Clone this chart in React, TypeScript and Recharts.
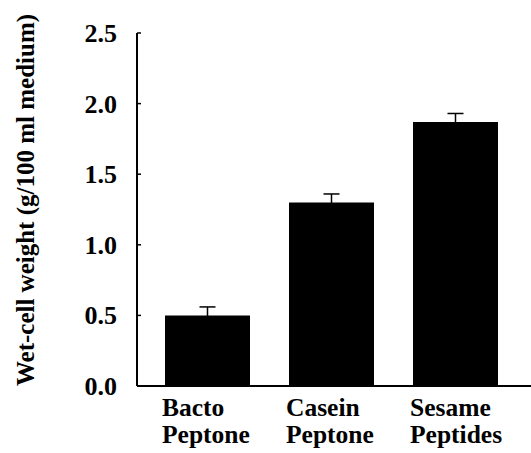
import React from 'react';
import { BarChart, Bar, XAxis, YAxis, ErrorBar, Label } from 'recharts';

document.body.style.margin = '0';

const categories = ['Bacto Peptone', 'Casein Peptone', 'Sesame Peptides'];
const weights = [0.5, 1.3, 1.87];
const errors = [0.06, 0.06, 0.06];
const yTicks = [0, 0.5, 1.0, 1.5, 2.0, 2.5];

const data = categories.map((name, i) => ({ name, value: weights[i], err: errors[i] }));

const FONT = '"Liberation Serif", "Times New Roman", serif';
const textStyle = { fontFamily: FONT, fontWeight: 'bold' as const };

const XTick = (props: any) => {
  const { x, y, payload } = props;
  const lines = String(payload.value).split(' ');
  return (
    <text x={x - 45} y={y} textAnchor="start" style={{ ...textStyle, fontSize: 25.5 }} fill="#000">
      {lines.map((l, i) => (
        <tspan key={i} x={x - 45} dy={i === 0 ? 22 : 27}>{l}</tspan>
      ))}
    </text>
  );
};

const YTick = (props: any) => {
  const { x, y, payload } = props;
  return (
    <text x={x} y={y} dy={9} textAnchor="end" style={{ ...textStyle, fontSize: 26 }} fill="#000">
      {Number(payload.value).toFixed(1)}
    </text>
  );
};

const YLabel = () => (
  <text
    x={34}
    y={200}
    transform="rotate(-90 34 200)"
    textAnchor="middle"
    style={{ ...textStyle, fontSize: 25 }}
    fill="#000"
  >
    Wet-cell weight (g/100 ml medium)
  </text>
);

export default function App() {
  return (
    <div style={{ width: 531, height: 453, background: '#fff' }}>
      <BarChart width={531} height={453} data={data} margin={{ top: 33, right: 0, bottom: 0, left: 0 }}>
        <XAxis
          dataKey="name"
          height={67}
          padding={{ left: 8, right: 14 }}
          axisLine={{ stroke: '#000', strokeWidth: 2 }}
          tickLine={false}
          tick={<XTick />}
          interval={0}
        />
        <YAxis
          width={137}
          domain={[0, 2.5]}
          ticks={yTicks}
          axisLine={{ stroke: '#000', strokeWidth: 2 }}
          tickLine={{ stroke: '#000', strokeWidth: 1.5 }}
          tickSize={-4}
          tickMargin={24}
          tick={<YTick />}
        >
          <Label content={<YLabel />} />
        </YAxis>
        <Bar dataKey="value" fill="#000" barSize={85} isAnimationActive={false}>
          <ErrorBar dataKey="err" direction="y" width={8} stroke="#000" strokeWidth={1.5} />
        </Bar>
      </BarChart>
    </div>
  );
}
